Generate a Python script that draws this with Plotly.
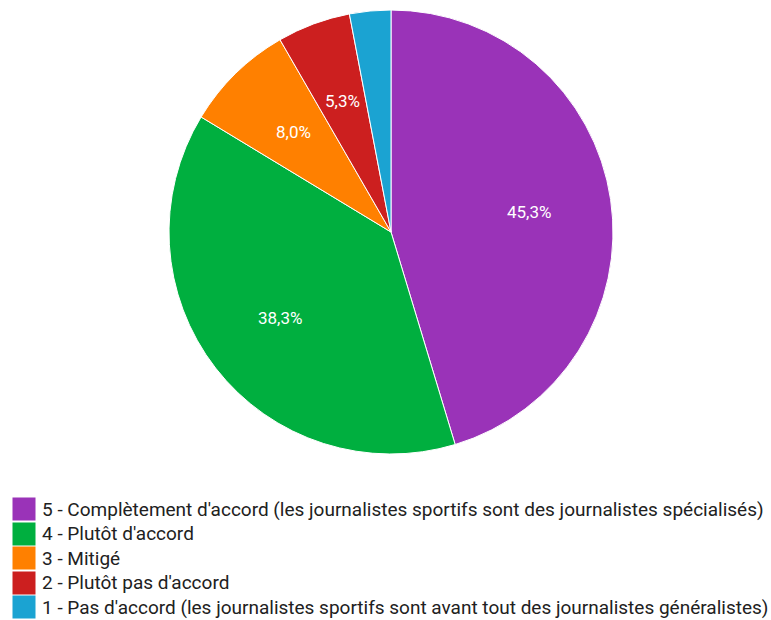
import math
import plotly.graph_objects as go

labels = [
    "5 - Complètement d'accord (les journalistes sportifs sont des journalistes spécialisés)",
    "4 - Plutôt d'accord",
    "3 - Mitigé",
    "2 - Plutôt pas d'accord",
    "1 - Pas d'accord (les journalistes sportifs sont avant tout des journalistes généralistes)",
]
counts = [136, 115, 24, 16, 9]
colors = ["#9A33B8", "#00AF3F", "#FF8000", "#CC1F1F", "#1BA3D2"]
show_label = [True, True, True, True, False]

W, H = 771, 620
cx, cy, r = 391, 232, 222
label_r = 0.63 * r

fig = go.Figure(go.Pie(
    labels=labels,
    values=counts,
    sort=False,
    direction="clockwise",
    rotation=0,
    marker=dict(colors=colors, line=dict(color="white", width=1)),
    textinfo="none",
    domain=dict(x=[(cx - r) / W, (cx + r) / W], y=[1 - (cy + r) / H, 1 - (cy - r) / H]),
    hoverinfo="label+percent",
    showlegend=False,
))

annotations = []
total = sum(counts)
cum = 0
for v, show in zip(counts, show_label):
    mid = (cum + v / 2) / total * 2 * math.pi
    cum += v
    if not show:
        continue
    px = cx + label_r * math.sin(mid)
    py = cy - label_r * math.cos(mid)
    annotations.append(dict(
        x=px / W, y=1 - py / H, xref="paper", yref="paper",
        text=f"{v / total * 100:.1f}".replace(".", ",") + "%",
        showarrow=False, xanchor="center", yanchor="middle",
        font=dict(family="Roboto", size=17, color="white"),
    ))

# legend built from labels and colors
leg_top, pitch = 509, 24.5
for i, (lab, col) in enumerate(zip(labels, colors)):
    yc = leg_top + i * pitch
    annotations.append(dict(
        x=12 / W, y=1 - yc / H, xref="paper", yref="paper",
        text=" ", showarrow=False, xanchor="left", yanchor="middle",
        width=22, height=22, bgcolor=col, borderpad=0,
    ))
    annotations.append(dict(
        x=40 / W, y=1 - yc / H, xref="paper", yref="paper",
        text=lab, showarrow=False, xanchor="left", yanchor="middle",
        font=dict(family="Roboto", size=19, color="#212121"),
    ))

fig.update_layout(
    width=W, height=H,
    margin=dict(l=0, r=0, t=0, b=0),
    paper_bgcolor="white",
    annotations=annotations,
    font=dict(family="Roboto"),
)

fig.write_html("out.html")
